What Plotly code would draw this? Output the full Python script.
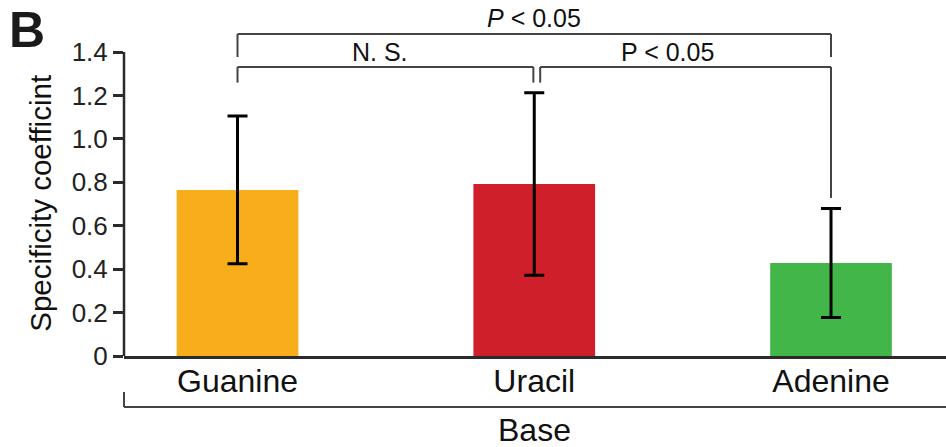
import plotly.graph_objects as go

# ---- data ----
categories = ["Guanine", "Uracil", "Adenine"]
means = [0.765, 0.792, 0.428]
errors = [0.340, 0.420, 0.251]
colors = ["#F7AE1A", "#CF1F2B", "#42B649"]
ytick_vals = [0, 0.2, 0.4, 0.6, 0.8, 1.0, 1.2, 1.4]
ytick_text = ["0", "0.2", "0.4", "0.6", "0.8", "1.0", "1.2", "1.4"]

# significance brackets: (x_left, x_right, y_bar, y_left_end, y_right_end)
brackets = [
    (0, 2, 1.483, 1.377, 1.377),
    (0, 0.997, 1.331, 1.259, 1.259),
    (1.02, 2, 1.331, 1.259, 0.728),
]
labels = [
    (1.0, 1.557, "<i>P</i> < 0.05"),
    (0.48, 1.40, "N. S."),
    (1.45, 1.40, "P < 0.05"),
]

Y_TOP = 1.4
Y_MAX = 1.6395
X_RANGE = [-0.3825, 2.3875]

FONT = "Liberation Sans, Arial, Helvetica, sans-serif"
AX = "#2b2b2b"
BR = "#444444"

xs = list(range(len(categories)))
fig = go.Figure()
fig.add_trace(go.Bar(
    x=xs, y=means, marker=dict(color=colors, line=dict(width=0)), width=0.41,
    error_y=dict(type="data", array=errors, visible=True, color="black",
                 thickness=3, width=10),
    showlegend=False, hoverinfo="skip",
))

shapes = []
for (x0, x1, yb, yl, yr) in brackets:
    shapes.append(dict(type="line", xref="x", yref="y", x0=x0, x1=x1, y0=yb, y1=yb,
                       line=dict(color=BR, width=2)))
    shapes.append(dict(type="line", xref="x", yref="y", x0=x0, x1=x0, y0=yb, y1=yl,
                       line=dict(color=BR, width=2)))
    shapes.append(dict(type="line", xref="x", yref="y", x0=x1, x1=x1, y0=yb, y1=yr,
                       line=dict(color=BR, width=2)))
# y axis line up to 1.4 only
shapes.append(dict(type="line", xref="paper", yref="paper", x0=0, x1=0, y0=0,
                   y1=Y_TOP / Y_MAX, line=dict(color=AX, width=2.5)))
# bottom "Base" bracket
shapes.append(dict(type="line", xref="paper", yref="paper", x0=0, x1=1, y0=-0.143,
                   y1=-0.143, line=dict(color=BR, width=2)))
shapes.append(dict(type="line", xref="paper", yref="paper", x0=0, x1=0, y0=-0.143,
                   y1=-0.101, line=dict(color=BR, width=2)))

annotations = []
for (x, y, t) in labels:
    annotations.append(dict(x=x, y=y, xref="x", yref="y", text=t, showarrow=False,
                            font=dict(family=FONT, size=25, color="#111"),
                            xanchor="center", yanchor="middle"))
annotations.append(dict(x=1.0, y=-0.208, xref="x", yref="paper", text="Base",
                        showarrow=False, font=dict(family=FONT, size=32, color="#111"),
                        xanchor="center", yanchor="middle"))
annotations.append(dict(x=-0.102, y=0.428, xref="paper", yref="paper",
                        text="Specificity coefficint", textangle=-90, showarrow=False,
                        font=dict(family=FONT, size=29.5, color="#111"),
                        xanchor="center", yanchor="middle"))
annotations.append(dict(x=-0.118, y=0.916, xref="paper", yref="paper", text="<b>B</b>",
                        showarrow=False, font=dict(family=FONT, size=50, color="#1a1a1a"),
                        xanchor="center", yanchor="middle"))

fig.update_layout(
    width=946, height=447,
    margin=dict(l=124, r=0, t=0, b=91),
    paper_bgcolor="white", plot_bgcolor="white",
    bargap=0.5,
    shapes=shapes, annotations=annotations,
    xaxis=dict(range=X_RANGE, tickvals=xs, ticktext=categories, showline=True,
               linecolor=AX, linewidth=2.5, ticks="", showgrid=False, zeroline=False,
               ticklabelstandoff=-5,
               tickfont=dict(family=FONT, size=32, color="#111")),
    yaxis=dict(range=[0, Y_MAX], tickvals=ytick_vals, ticktext=ytick_text,
               showline=False, ticks="outside", ticklen=10, tickwidth=2.5,
               tickcolor=AX, showgrid=False, zeroline=False,
               tickfont=dict(family=FONT, size=26, color="#222")),
)
fig.write_html("out.html", config={"displayModeBar": False},
               post_script="document.body.style.margin='0';document.body.style.overflow='hidden';")
